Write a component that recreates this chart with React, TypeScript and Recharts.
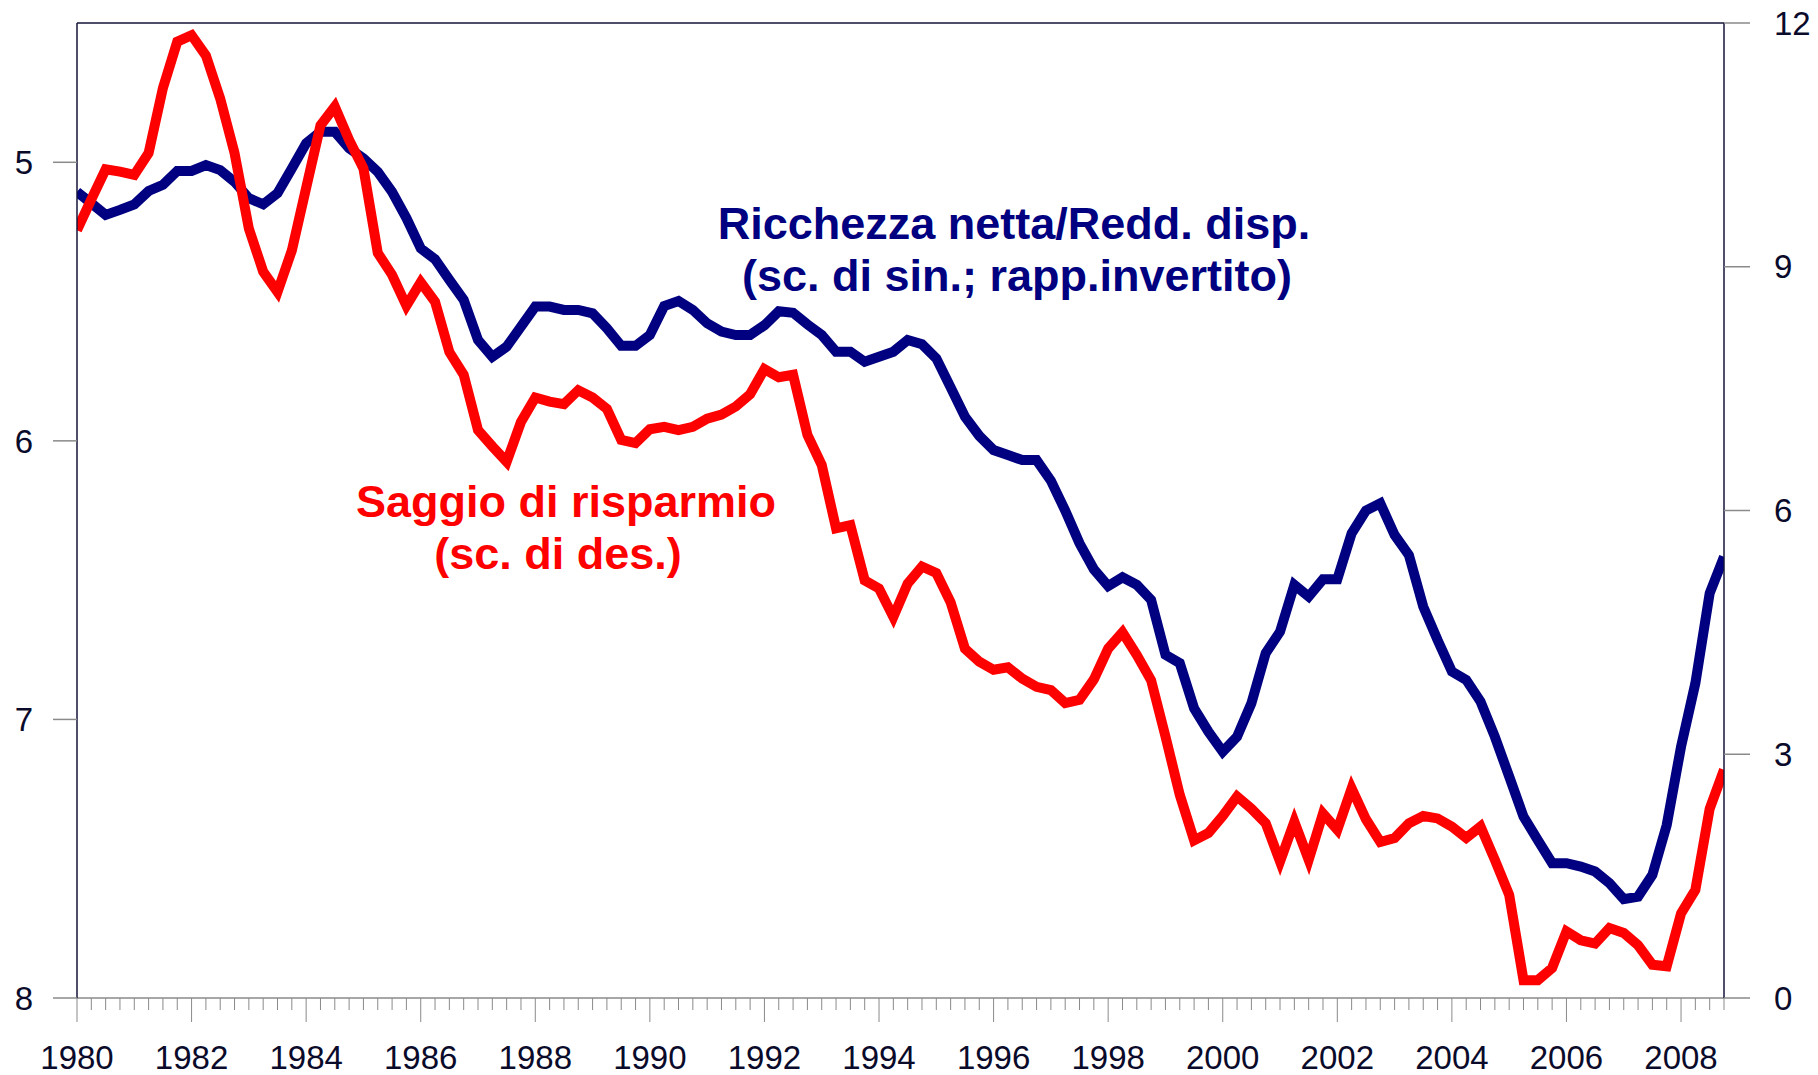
import React from 'react'
import { LineChart, Line, XAxis, YAxis, ReferenceLine } from 'recharts'

const START_YEAR = 1980

// ricchezza netta / reddito disponibile (scala sinistra, invertita)
const ricchezza = [
    5.106, 5.147, 5.189, 5.171, 5.151, 5.103, 5.081, 5.031, 5.031, 5.01, 5.028, 5.07,
    5.129, 5.151, 5.111, 5.022, 4.932, 4.89, 4.89, 4.95, 4.986, 5.034, 5.106, 5.2,
    5.309, 5.348, 5.422, 5.494, 5.638, 5.698, 5.662, 5.59, 5.518, 5.518, 5.53, 5.53,
    5.542, 5.596, 5.659, 5.659, 5.62, 5.516, 5.498, 5.53, 5.578, 5.608, 5.62, 5.62,
    5.585, 5.535, 5.54, 5.582, 5.62, 5.68, 5.68, 5.716, 5.698, 5.68, 5.638, 5.653,
    5.704, 5.808, 5.913, 5.982, 6.033, 6.051, 6.069, 6.069, 6.143, 6.25, 6.368, 6.461,
    6.521, 6.49, 6.517, 6.571, 6.768, 6.798, 6.96, 7.044, 7.116, 7.062, 6.942, 6.762,
    6.685, 6.517, 6.559, 6.497, 6.497, 6.332, 6.25, 6.224, 6.338, 6.41, 6.595, 6.715,
    6.828, 6.858, 6.936, 7.062, 7.205, 7.349, 7.433, 7.516, 7.516, 7.528, 7.546, 7.588,
    7.645, 7.636, 7.558, 7.379, 7.098, 6.87, 6.547, 6.416,
]

// saggio di risparmio (scala destra)
const risparmio = [
    9.45, 9.83, 10.2, 10.17, 10.13, 10.4, 11.2, 11.77, 11.85, 11.6, 11.07, 10.4,
    9.47, 8.94, 8.69, 9.2, 9.97, 10.74, 10.97, 10.56, 10.21, 9.17, 8.9, 8.52,
    8.81, 8.57, 7.95, 7.67, 6.99, 6.79, 6.6, 7.09, 7.39, 7.34, 7.31, 7.48,
    7.39, 7.25, 6.87, 6.83, 7.0, 7.03, 6.99, 7.03, 7.13, 7.18, 7.28, 7.43,
    7.74, 7.64, 7.67, 6.93, 6.56, 5.78, 5.82, 5.14, 5.04, 4.69, 5.1, 5.31,
    5.23, 4.87, 4.3, 4.14, 4.04, 4.07, 3.93, 3.83, 3.79, 3.63, 3.67, 3.92,
    4.3, 4.5, 4.22, 3.91, 3.22, 2.5, 1.94, 2.03, 2.24, 2.48, 2.33, 2.15,
    1.68, 2.17, 1.7, 2.27, 2.07, 2.58, 2.2, 1.92, 1.97, 2.15, 2.24, 2.21,
    2.11, 1.97, 2.11, 1.7, 1.27, 0.22, 0.22, 0.37, 0.82, 0.71, 0.67, 0.86,
    0.8, 0.65, 0.41, 0.39, 1.04, 1.33, 2.33, 2.81,
]

const leftTicks = [5, 6, 7, 8]
const rightTicks = [0, 3, 6, 9, 12]
const quarterTicks = ricchezza.map((_, i) => START_YEAR + i / 4)

const data = ricchezza.map((r, i) => ({
    t: START_YEAR + i / 4,
    ricchezza: r,
    risparmio: risparmio[i],
}))

const FONT = '"Liberation Sans", Arial, Helvetica, sans-serif'
const TEXT = '#0a0a2a'

const XTick = (props: any) => {
    const { x, y, payload } = props
    const v = payload.value
    const major = Math.abs(v - Math.round(v)) < 1e-6 && Math.round(v) % 2 === 0
    return (
        <g>
            <line x1={x} x2={x} y1={y} y2={y + (major ? 24 : 12)} stroke='#8a8a8a' strokeWidth={1} />
            {major && (
                <text x={x} y={y + 71} textAnchor='middle' fontSize={33} fontFamily={FONT} fill={TEXT}>
                    {Math.round(v)}
                </text>
            )}
        </g>
    )
}

export default function App() {
    return (
        <div style={{ position: 'absolute', left: 0, top: 0, width: 1818, height: 1075, background: '#fff' }}>
            <LineChart
                width={1818}
                height={1075}
                data={data}
                margin={{ top: 23, right: 0, left: 0, bottom: 0 }}
            >
                <XAxis
                    dataKey='t'
                    type='number'
                    domain={[1980, 2008.75]}
                    ticks={quarterTicks}
                    interval={0}
                    tick={<XTick />}
                    tickLine={false}
                    tickSize={0}
                    tickMargin={0}
                    axisLine={{ stroke: '#8a8a8a', strokeWidth: 1.5 }}
                    height={77}
                    allowDataOverflow
                />
                <YAxis
                    yAxisId='left'
                    domain={[4.5, 8]}
                    reversed
                    ticks={leftTicks}
                    interval={0}
                    width={77}
                    tickSize={24}
                    tickMargin={20}
                    tickLine={{ stroke: '#8a8a8a', strokeWidth: 1.5 }}
                    axisLine={{ stroke: '#14143a', strokeWidth: 1.5 }}
                    tick={{ fontSize: 33, fontFamily: FONT, fill: TEXT }}
                    allowDataOverflow
                />
                <YAxis
                    yAxisId='right'
                    orientation='right'
                    domain={[0, 12]}
                    ticks={rightTicks}
                    interval={0}
                    width={94}
                    tickSize={26}
                    tickMargin={24}
                    tickLine={{ stroke: '#8a8a8a', strokeWidth: 1.5 }}
                    axisLine={{ stroke: '#14143a', strokeWidth: 1.5 }}
                    tick={{ fontSize: 33, fontFamily: FONT, fill: TEXT, textAnchor: 'start' }}
                    allowDataOverflow
                />
                <ReferenceLine yAxisId='left' y={4.5} stroke='#14143a' strokeWidth={1.5} />
                <Line
                    yAxisId='left'
                    type='linear'
                    dataKey='ricchezza'
                    stroke='#000080'
                    strokeWidth={10}
                    dot={false}
                    activeDot={false}
                    isAnimationActive={false}
                />
                <Line
                    yAxisId='right'
                    type='linear'
                    dataKey='risparmio'
                    stroke='#ff0000'
                    strokeWidth={10}
                    dot={false}
                    activeDot={false}
                    isAnimationActive={false}
                />
            </LineChart>
            <svg
                width={1818}
                height={1075}
                style={{ position: 'absolute', left: 0, top: 0, pointerEvents: 'none' }}
            >
                <g fontFamily={FONT} fontWeight='bold' fontSize={45} textAnchor='middle'>
                    <text x={1014} y={239} fill='#000080'>Ricchezza netta/Redd. disp.</text>
                    <text x={1017} y={291} fill='#000080'>(sc. di sin.; rapp.invertito)</text>
                    <text x={566} y={517} fill='#ff0000'>Saggio di risparmio</text>
                    <text x={558} y={569} fill='#ff0000'>(sc. di des.)</text>
                </g>
            </svg>
        </div>
    )
}
